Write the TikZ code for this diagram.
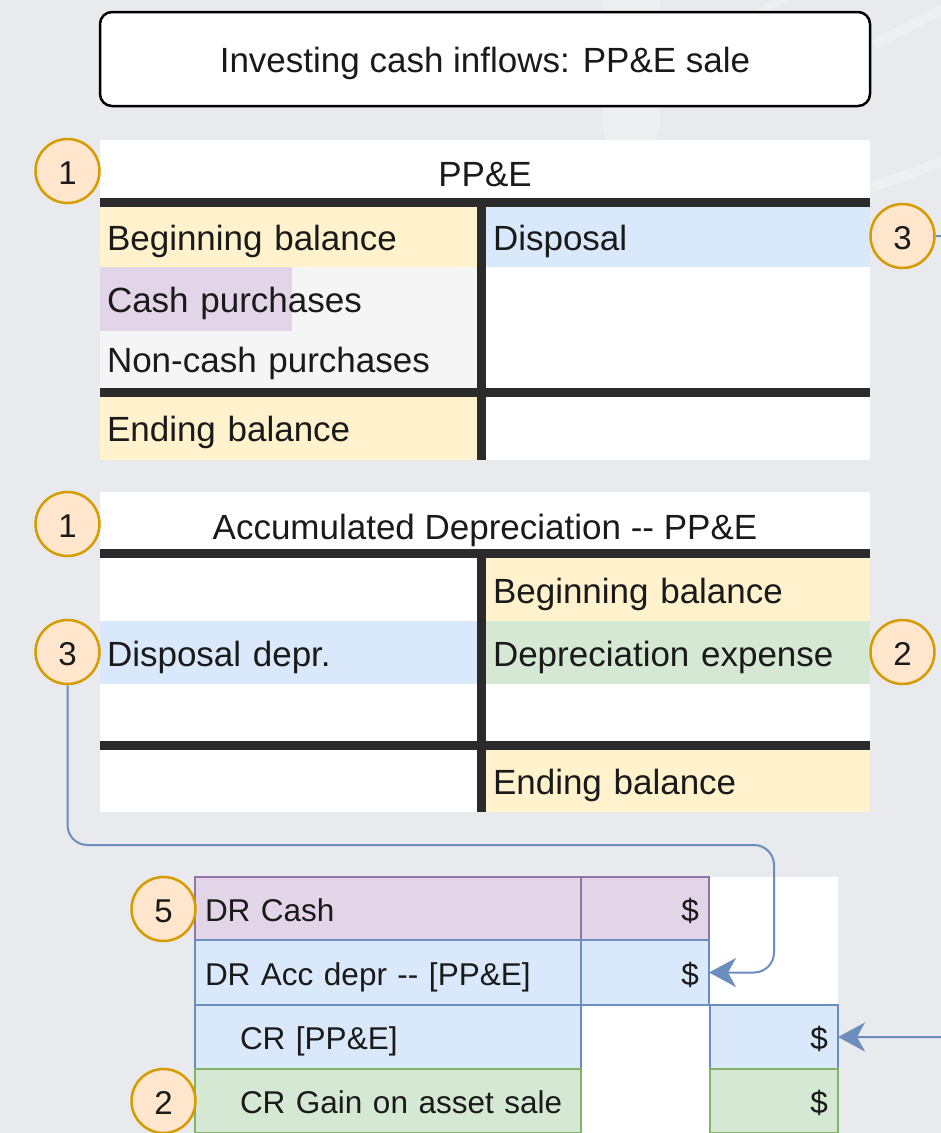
\documentclass[tikz,border=0pt]{standalone}
\usepackage{fontspec}
\newfontfamily\lib{Liberation Sans}
\usetikzlibrary{arrows.meta}
\definecolor{bg}{HTML}{E8EAED}
\definecolor{bgl}{HTML}{EEEFF1}
\definecolor{yel}{HTML}{FFF2CC}
\definecolor{blu}{HTML}{DAE8FC}
\definecolor{blub}{HTML}{6C8EBF}
\definecolor{pur}{HTML}{E1D5E7}
\definecolor{purb}{HTML}{9673A6}
\definecolor{grn}{HTML}{D5E8D4}
\definecolor{grnb}{HTML}{82B366}
\definecolor{gry}{HTML}{F5F5F5}
\definecolor{org}{HTML}{FFE6CC}
\definecolor{orgb}{HTML}{D79B00}
\definecolor{barc}{HTML}{2B2B2B}
\definecolor{txt}{HTML}{1A1A1A}
\tikzset{
  big/.style={font=\lib\fontsize{35}{42}\selectfont, text=txt, text height=30pt, text depth=3pt},
  tcell/.style={big, inner xsep=7pt, inner ysep=0pt, outer sep=0pt, align=left,
    anchor=west, minimum height=#1},
  lcol/.style={text width=363pt},
  rcol/.style={text width=370pt},
  tbar/.style={draw=barc, line width=9pt},
  num/.style={circle, draw=orgb, fill=org, line width=2.5pt, minimum size=64pt,
    inner sep=0pt, font=\lib\fontsize{33}{40}\selectfont, text=txt,
    text height=26pt, text depth=0pt},
  jcell/.style={font=\lib\fontsize{31.5}{38}\selectfont, text=txt, inner xsep=10pt,
    inner ysep=0pt, outer sep=0pt, line width=2pt, anchor=west,
    text height=27pt, text depth=2pt, minimum height=#1},
  jtext/.style={text width=366pt, align=left},
  jamt/.style={text width=108pt, align=right},
  conn/.style={draw=blub, line width=2pt, rounded corners=20pt,
    -{Stealth[length=27pt,width=29pt,inset=8pt]}},
}
\begin{document}
\begin{tikzpicture}[x=1pt,y=-1pt]
\useasboundingbox (0,0) rectangle (941,1133);
\clip (0,0) rectangle (941,1133);
\fill[bg] (0,0) rectangle (941,1133);
% faint background streaks
\fill[bgl, rounded corners=25pt] (603,-30) rectangle (660,150);
\draw[bgl, line width=10pt] (873,45) -- (960,0);
\draw[bgl, line width=10pt] (865,190) -- (960,155);
\draw[bgl, line width=8pt] (720,35) -- (790,-5);

% title
\node[big, draw=black, fill=white, line width=2.5pt, rounded corners=12pt,
  minimum width=770pt, minimum height=94pt] (title) at (485,59) {Investing cash inflows: PP\&E sale};

% ---------- PP&E T-account ----------
\fill[white] (100,140) rectangle (870,460);
\node[big] (ppeH) at (485,173) {PP\&E};
\node[tcell=61pt, lcol, fill=yel] (ppeBB) at (100,236.5) {Beginning balance};
\node[tcell=61pt, rcol, fill=blu] (ppeDisp) at (486,236.5) {Disposal};
\node[tcell=121pt, lcol, fill=gry] (ppeGray) at (100,327.5) {};
\node[fill=pur, inner sep=0pt, minimum width=192pt, minimum height=64pt, anchor=north west] (ppeCashBg) at (100,267) {};
\node[tcell=63pt, lcol] (ppeCash) at (100,298.5) {Cash purchases};
\node[tcell=58pt, lcol] (ppeNon) at (100,359) {Non-cash purchases};
\node[tcell=64pt, lcol, fill=yel] (ppeEB) at (100,428) {Ending balance};
\draw[tbar] (100,202) -- (870,202);
\draw[tbar] (100,392) -- (870,392);
\draw[tbar] (481.5,206) -- (481.5,460);

% ---------- Accumulated depreciation T-account ----------
\fill[white] (100,492) rectangle (870,812);
\node[big] (adH) at (485,526) {Accumulated Depreciation -- PP\&E};
\node[tcell=63pt, rcol, fill=yel] (adBB) at (486,589.5) {Beginning balance};
\node[tcell=63pt, lcol, fill=blu] (adDisp) at (100,652.5) {Disposal depr.};
\node[tcell=63pt, rcol, fill=grn] (adDep) at (486,652.5) {Depreciation expense};
\node[tcell=62pt, rcol, fill=yel] (adEB) at (486,781) {Ending balance};
\draw[tbar] (100,553.5) -- (870,553.5);
\draw[tbar] (100,745.5) -- (870,745.5);
\draw[tbar] (481.5,553) -- (481.5,812);

% ---------- Journal entry ----------
\fill[white] (195,877) rectangle (838,1140);
\node[jcell=63pt, jtext, draw=purb, fill=pur] (j1a) at (195,908.5) {DR Cash};
\node[jcell=63pt, jamt, draw=purb, fill=pur] (j1b) at (581,908.5) {\$};
\node[jcell=65pt, jtext, draw=blub, fill=blu] (j2a) at (195,972.5) {DR Acc depr -- [PP\&E]};
\node[jcell=65pt, jamt, draw=blub, fill=blu] (j2b) at (581,972.5) {\$};
\node[jcell=64pt, jtext, draw=blub, fill=blu] (j3a) at (195,1037) {\hspace*{35pt}CR [PP\&E]};
\node[jcell=64pt, jamt, draw=blub, fill=blu] (j3c) at (710,1037) {\$};
\node[jcell=64pt, jtext, draw=grnb, fill=grn] (j4a) at (195,1101) {\hspace*{35pt}CR Gain on asset sale};
\node[jcell=64pt, jamt, draw=grnb, fill=grn] (j4c) at (710,1101) {\$};

% ---------- number circles ----------
\node[num] (n1a) at (67.5,171) {1};
\node[num] (n3a) at (902.5,236) {3};
\node[num] (n1b) at (67.5,524) {1};
\node[num] (n3b) at (67.5,652) {3};
\node[num] (n2a) at (902.5,652) {2};
\node[num] (n5) at (163.5,909) {5};
\node[num] (n2b) at (163.5,1101) {2};

% ---------- connectors ----------
\coordinate (k1) at (774,845);
\coordinate (k2) at (990,236);
\draw[conn] (n3b.south) |- (k1) |- (j2b.east);
\draw[conn] (n3a.east) -- (k2) |- (j3c.east);
\end{tikzpicture}
\end{document}
